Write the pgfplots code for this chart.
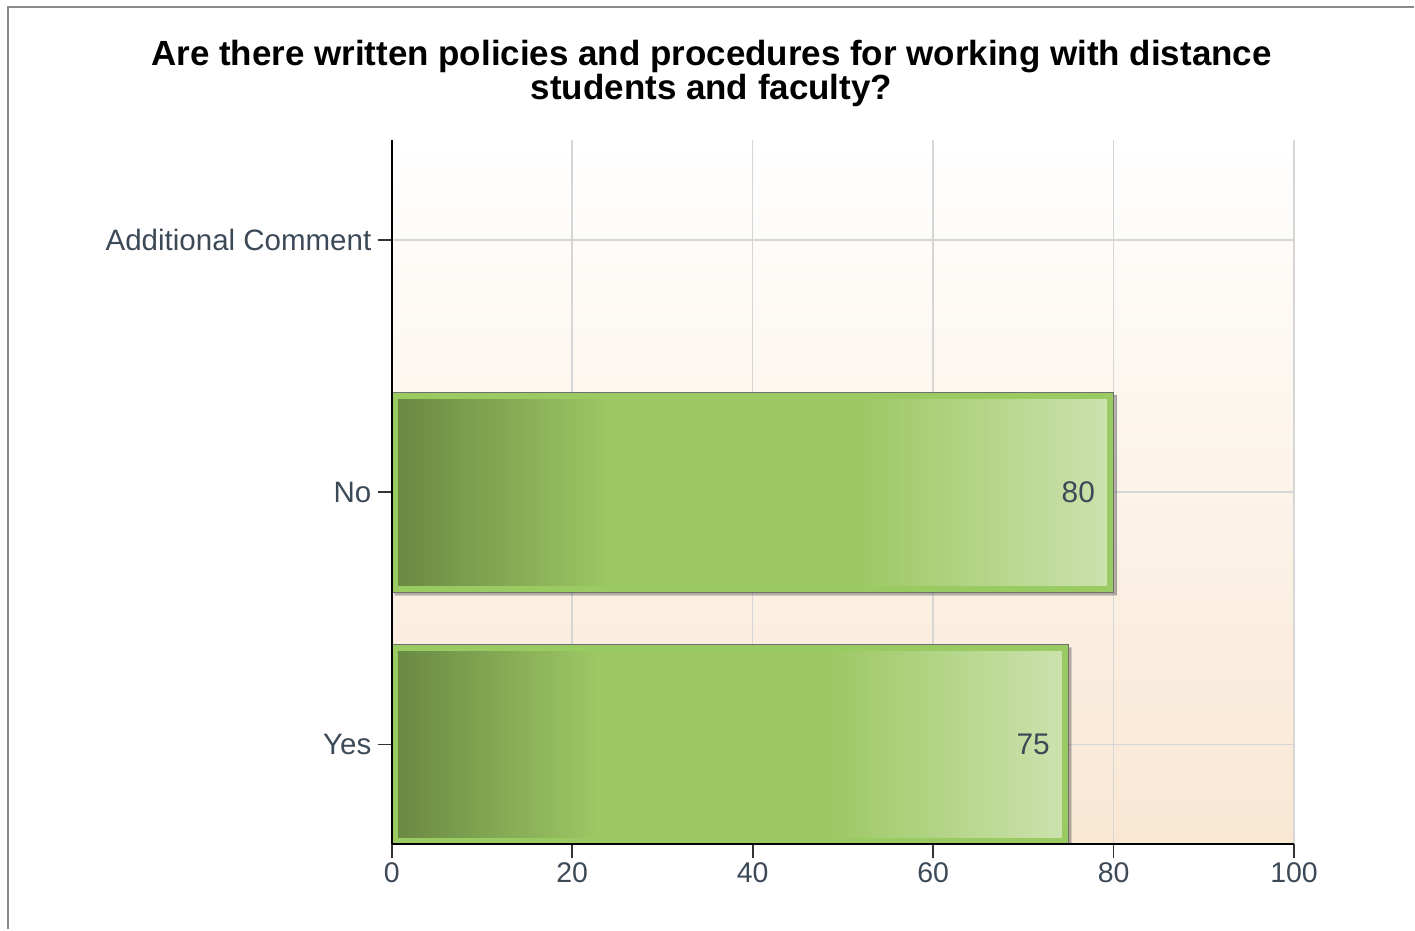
\documentclass[border=0pt]{standalone}
\usepackage{pgfplots}
\pgfplotsset{compat=1.18}
\usepackage{fontspec}
\setmainfont{Liberation Sans}
\usetikzlibrary{shadows}
\definecolor{framegray}{HTML}{8A8A8A}
\definecolor{gridgray}{HTML}{D6D6D6}
\definecolor{ticktext}{HTML}{3C4A58}
\definecolor{bgpeach}{HTML}{F9E7D3}
\definecolor{bardark}{HTML}{6A8943}
\definecolor{barmid}{HTML}{9DC864}
\definecolor{barlight}{HTML}{CBE2AD}
\definecolor{barborder}{HTML}{9ACB62}
\definecolor{barline}{HTML}{6F6F6F}
\pgfdeclarehorizontalshading{barshade}{100bp}{color(0bp)=(bardark); color(25bp)=(bardark); color(40bp)=(barmid); color(57.5bp)=(barmid); color(75bp)=(barlight); color(100bp)=(barlight)}
\begin{document}
\begin{tikzpicture}
\path (0,0) rectangle (14.15cm,-9.3cm);
\draw[framegray, line width=0.6pt] (0.08cm,-9.3cm) -- (0.08cm,-0.07cm) -- (14.15cm,-0.07cm);
\node[anchor=base, font=\fontsize{9.95}{10}\selectfont\bfseries, inner sep=0pt] at (7.12cm,-0.66cm) {Are there written policies and procedures for working with distance};
\node[anchor=base, font=\fontsize{9.95}{10}\selectfont\bfseries, inner sep=0pt] at (7.12cm,-1.0cm) {students and faculty?};
\begin{axis}[
  at={(3.92cm,-8.45cm)}, anchor=south west,
  scale only axis, width=9.03cm, height=7.05cm,
  set layers=axis on top,
  xbar, bar shift=0pt,
  xmin=0, xmax=100, ymin=-0.396, ymax=2.396,
  xtick={0,20,40,60,80,100},
  ytick={0,1,2}, yticklabels={Yes,No,Additional Comment},
  axis x line*=bottom, axis y line*=left,
  axis line style={black, line width=0.6pt, -},
  tick align=outside, major tick length=1.4mm,
  tick style={black!80, line width=0.5pt},
  xmajorgrids, ymajorgrids,
  major grid style={gridgray, line width=0.45pt, /pgfplots/on layer=axis background},
  axis background/.style={shade, top color=white, bottom color=bgpeach},
  xticklabel style={font=\fontsize{8.1}{9}\selectfont, text=ticktext, yshift=0.8mm},
  yticklabel style={font=\fontsize{8.4}{9}\selectfont, text=ticktext, xshift=0.6mm},
  /pgf/number format/assume math mode=true,
  outerbar/.style={bar width=2cm, fill=barborder, draw=barline, line width=0.3pt,
    drop shadow={shadow xshift=0.3mm, shadow yshift=-0.3mm, fill=black, opacity=0.28}},
  innerbar/.style={bar width=1.86cm, shading=barshade, draw=none, xshift=0.65mm,
    x filter/.expression={x-1.44}, point meta=rawx,
    nodes near coords,
    every node near coord/.append style={anchor=east, inner sep=0pt, xshift=-1.15mm,
      font=\fontsize{8.5}{9}\selectfont, text=ticktext}},
]
\addplot[outerbar] coordinates {(80,1)};
\addplot[innerbar] coordinates {(80,1)};
\addplot[outerbar] coordinates {(75,0)};
\addplot[innerbar] coordinates {(75,0)};
\end{axis}
\end{tikzpicture}
\end{document}
